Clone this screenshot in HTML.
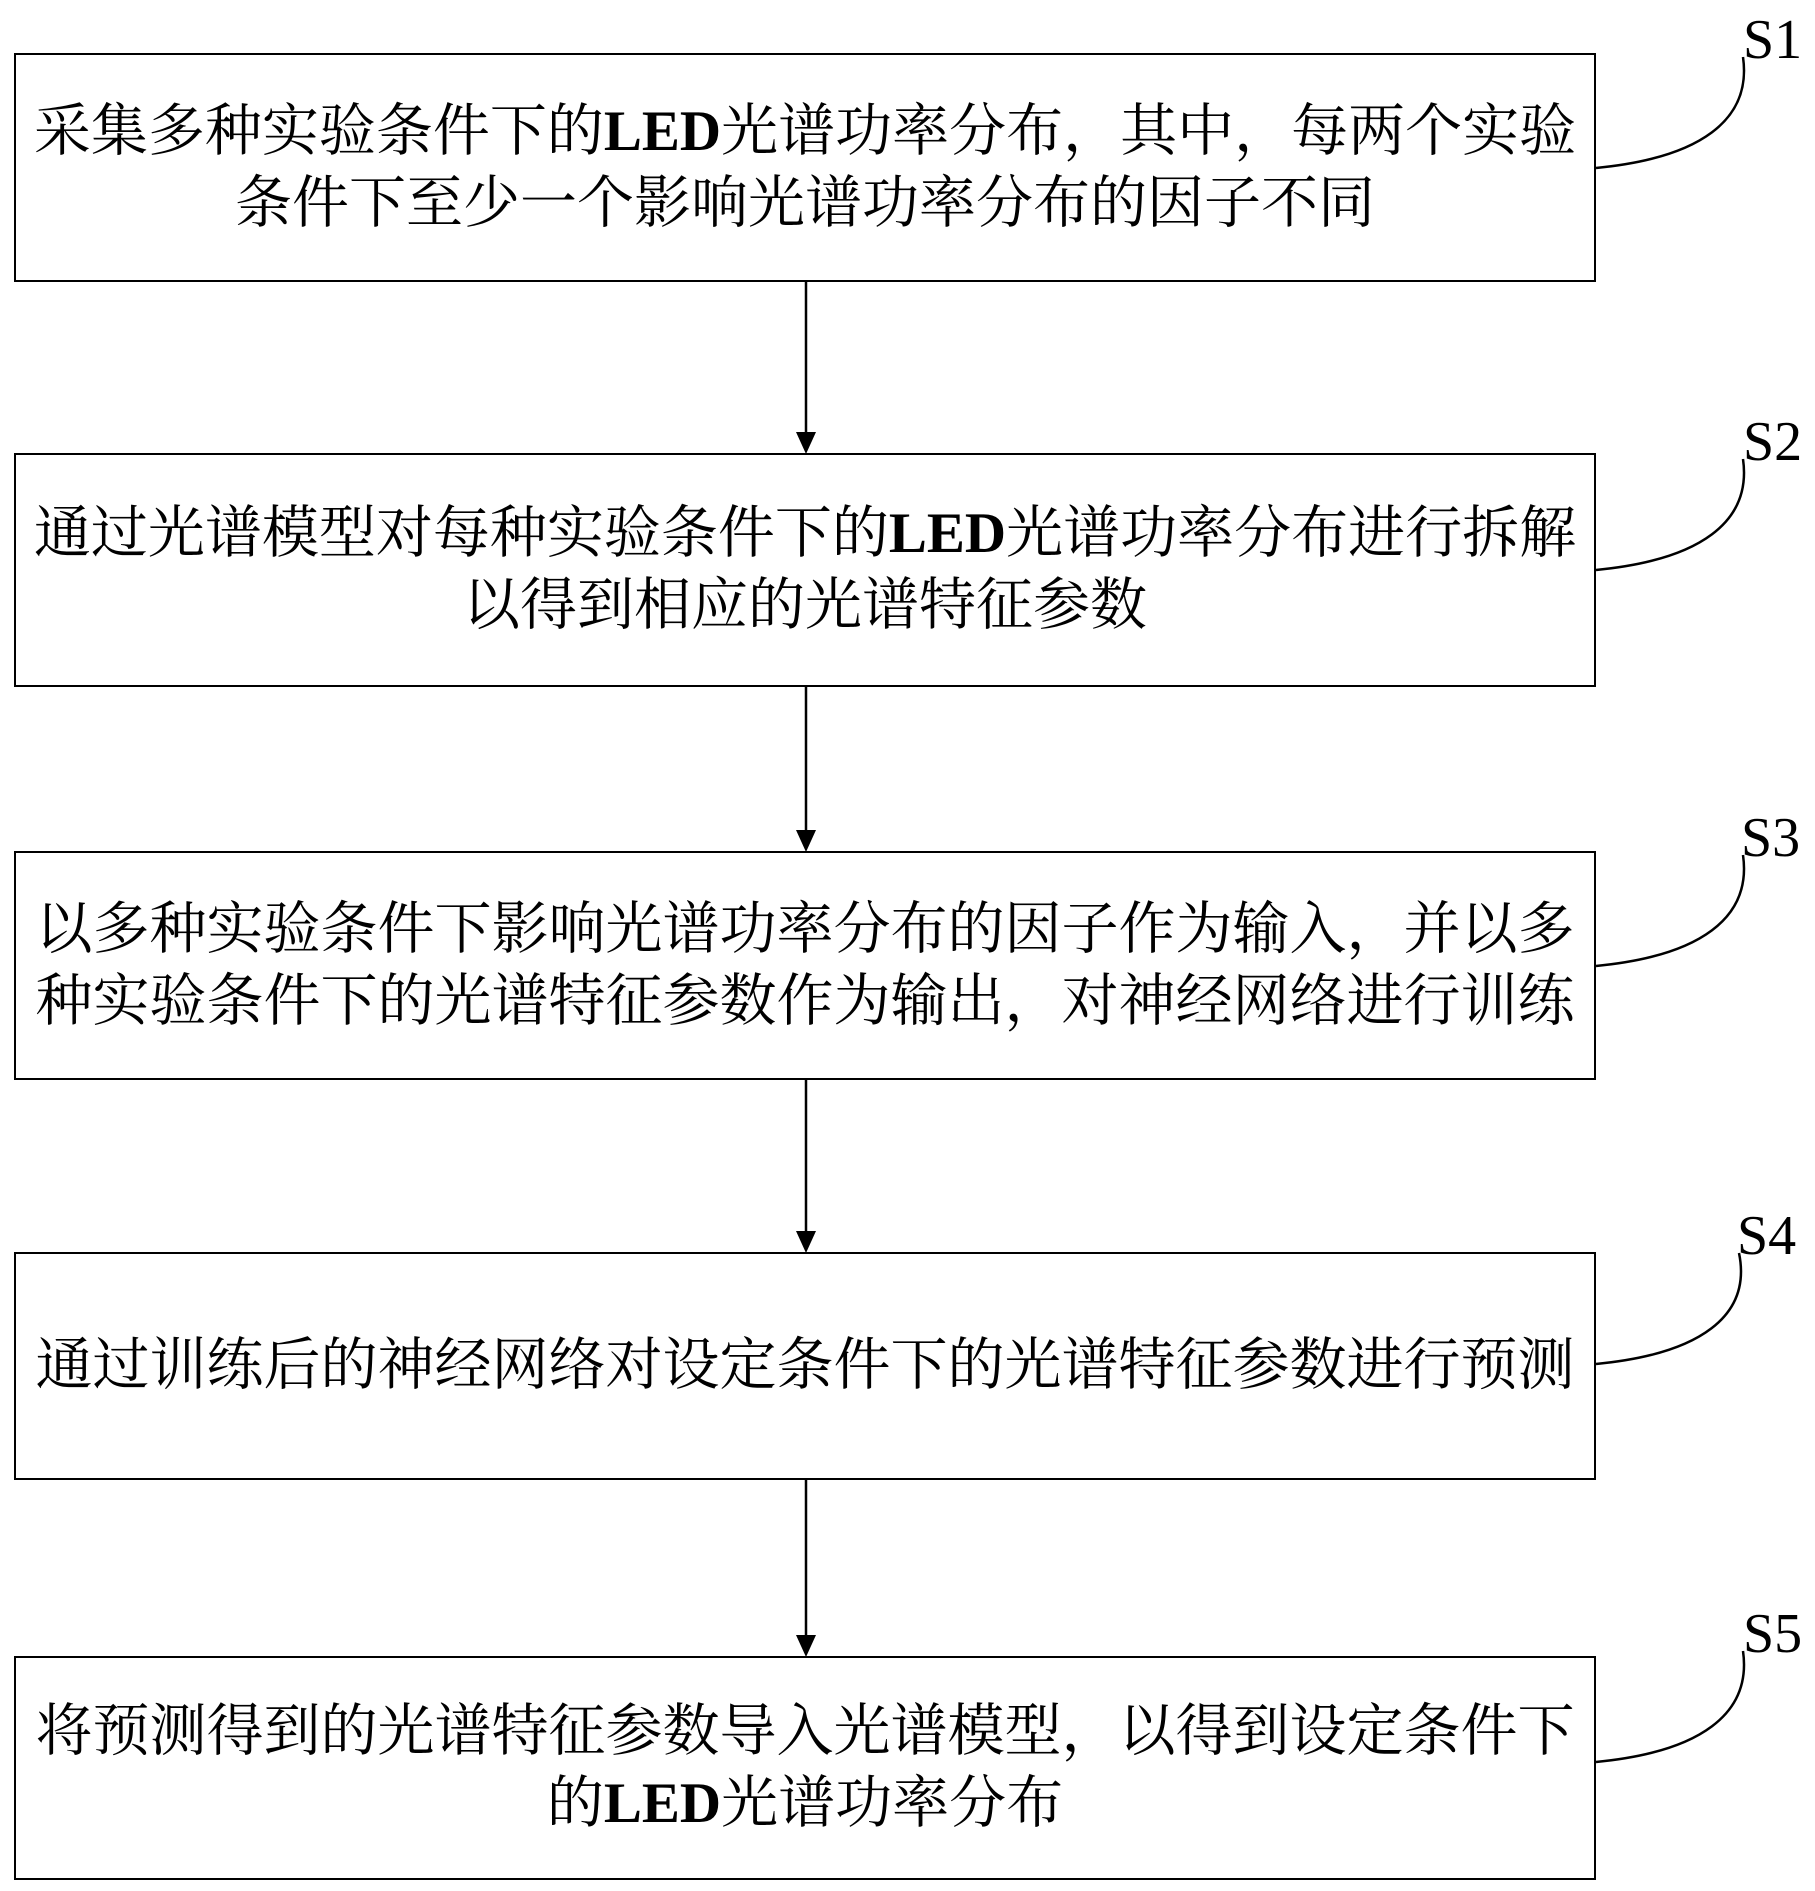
<!DOCTYPE html>
<html><head><meta charset="utf-8"><style>
body{margin:0;background:#fff;width:1815px;height:1891px;position:relative;overflow:hidden}
.b{position:absolute;left:14px;width:1582px;border:2px solid #000;box-sizing:border-box;display:flex;align-items:center;justify-content:center;text-align:center;font-family:"Liberation Serif","Noto Serif CJK SC",serif;font-size:57px;line-height:72px;color:#000}
.b div{white-space:nowrap}
.b b{font-family:"Liberation Serif",serif;font-weight:bold}
.l{position:absolute;font-family:"Liberation Serif",serif;font-size:56px;line-height:1}
svg{position:absolute;left:0;top:0}
</style></head><body>
<svg width="1815" height="1891" fill="none" stroke="#000" stroke-width="2.5">
<path d="M806,281 V440" />
<path d="M796,432 L816,432 L806,454z" fill="#000" stroke="none"/>
<path d="M806,686 V838" />
<path d="M796,830 L816,830 L806,852z" fill="#000" stroke="none"/>
<path d="M806,1079 V1239" />
<path d="M796,1231 L816,1231 L806,1253z" fill="#000" stroke="none"/>
<path d="M806,1479 V1643" />
<path d="M796,1635 L816,1635 L806,1657z" fill="#000" stroke="none"/>
<path d="M1596,168 C1700,158 1752,120 1743,57"/>
<path d="M1596,570 C1700,560 1752,522 1743,459"/>
<path d="M1596,966 C1700,956 1752,918 1743,855"/>
<path d="M1596,1364 C1700,1354 1752,1316 1739,1253"/>
<path d="M1596,1762 C1700,1752 1752,1714 1743,1651"/>
</svg>
<div class="b" style="top:53px;height:229px"><div>采集多种实验条件下的<b>LED</b>光谱功率分布，其中，每两个实验<br>条件下至少一个影响光谱功率分布的因子不同</div></div>
<div class="b" style="top:453px;height:234px"><div>通过光谱模型对每种实验条件下的<b>LED</b>光谱功率分布进行拆解<br>以得到相应的光谱特征参数</div></div>
<div class="b" style="top:851px;height:229px"><div>以多种实验条件下影响光谱功率分布的因子作为输入，并以多<br>种实验条件下的光谱特征参数作为输出，对神经网络进行训练</div></div>
<div class="b" style="top:1252px;height:228px"><div>通过训练后的神经网络对设定条件下的光谱特征参数进行预测</div></div>
<div class="b" style="top:1656px;height:224px"><div>将预测得到的光谱特征参数导入光谱模型，以得到设定条件下<br>的<b>LED</b>光谱功率分布</div></div>
<div class="l" style="left:1743px;top:12px">S1</div>
<div class="l" style="left:1743px;top:414px">S2</div>
<div class="l" style="left:1741px;top:810px">S3</div>
<div class="l" style="left:1737px;top:1208px">S4</div>
<div class="l" style="left:1743px;top:1606px">S5</div>
</body></html>
